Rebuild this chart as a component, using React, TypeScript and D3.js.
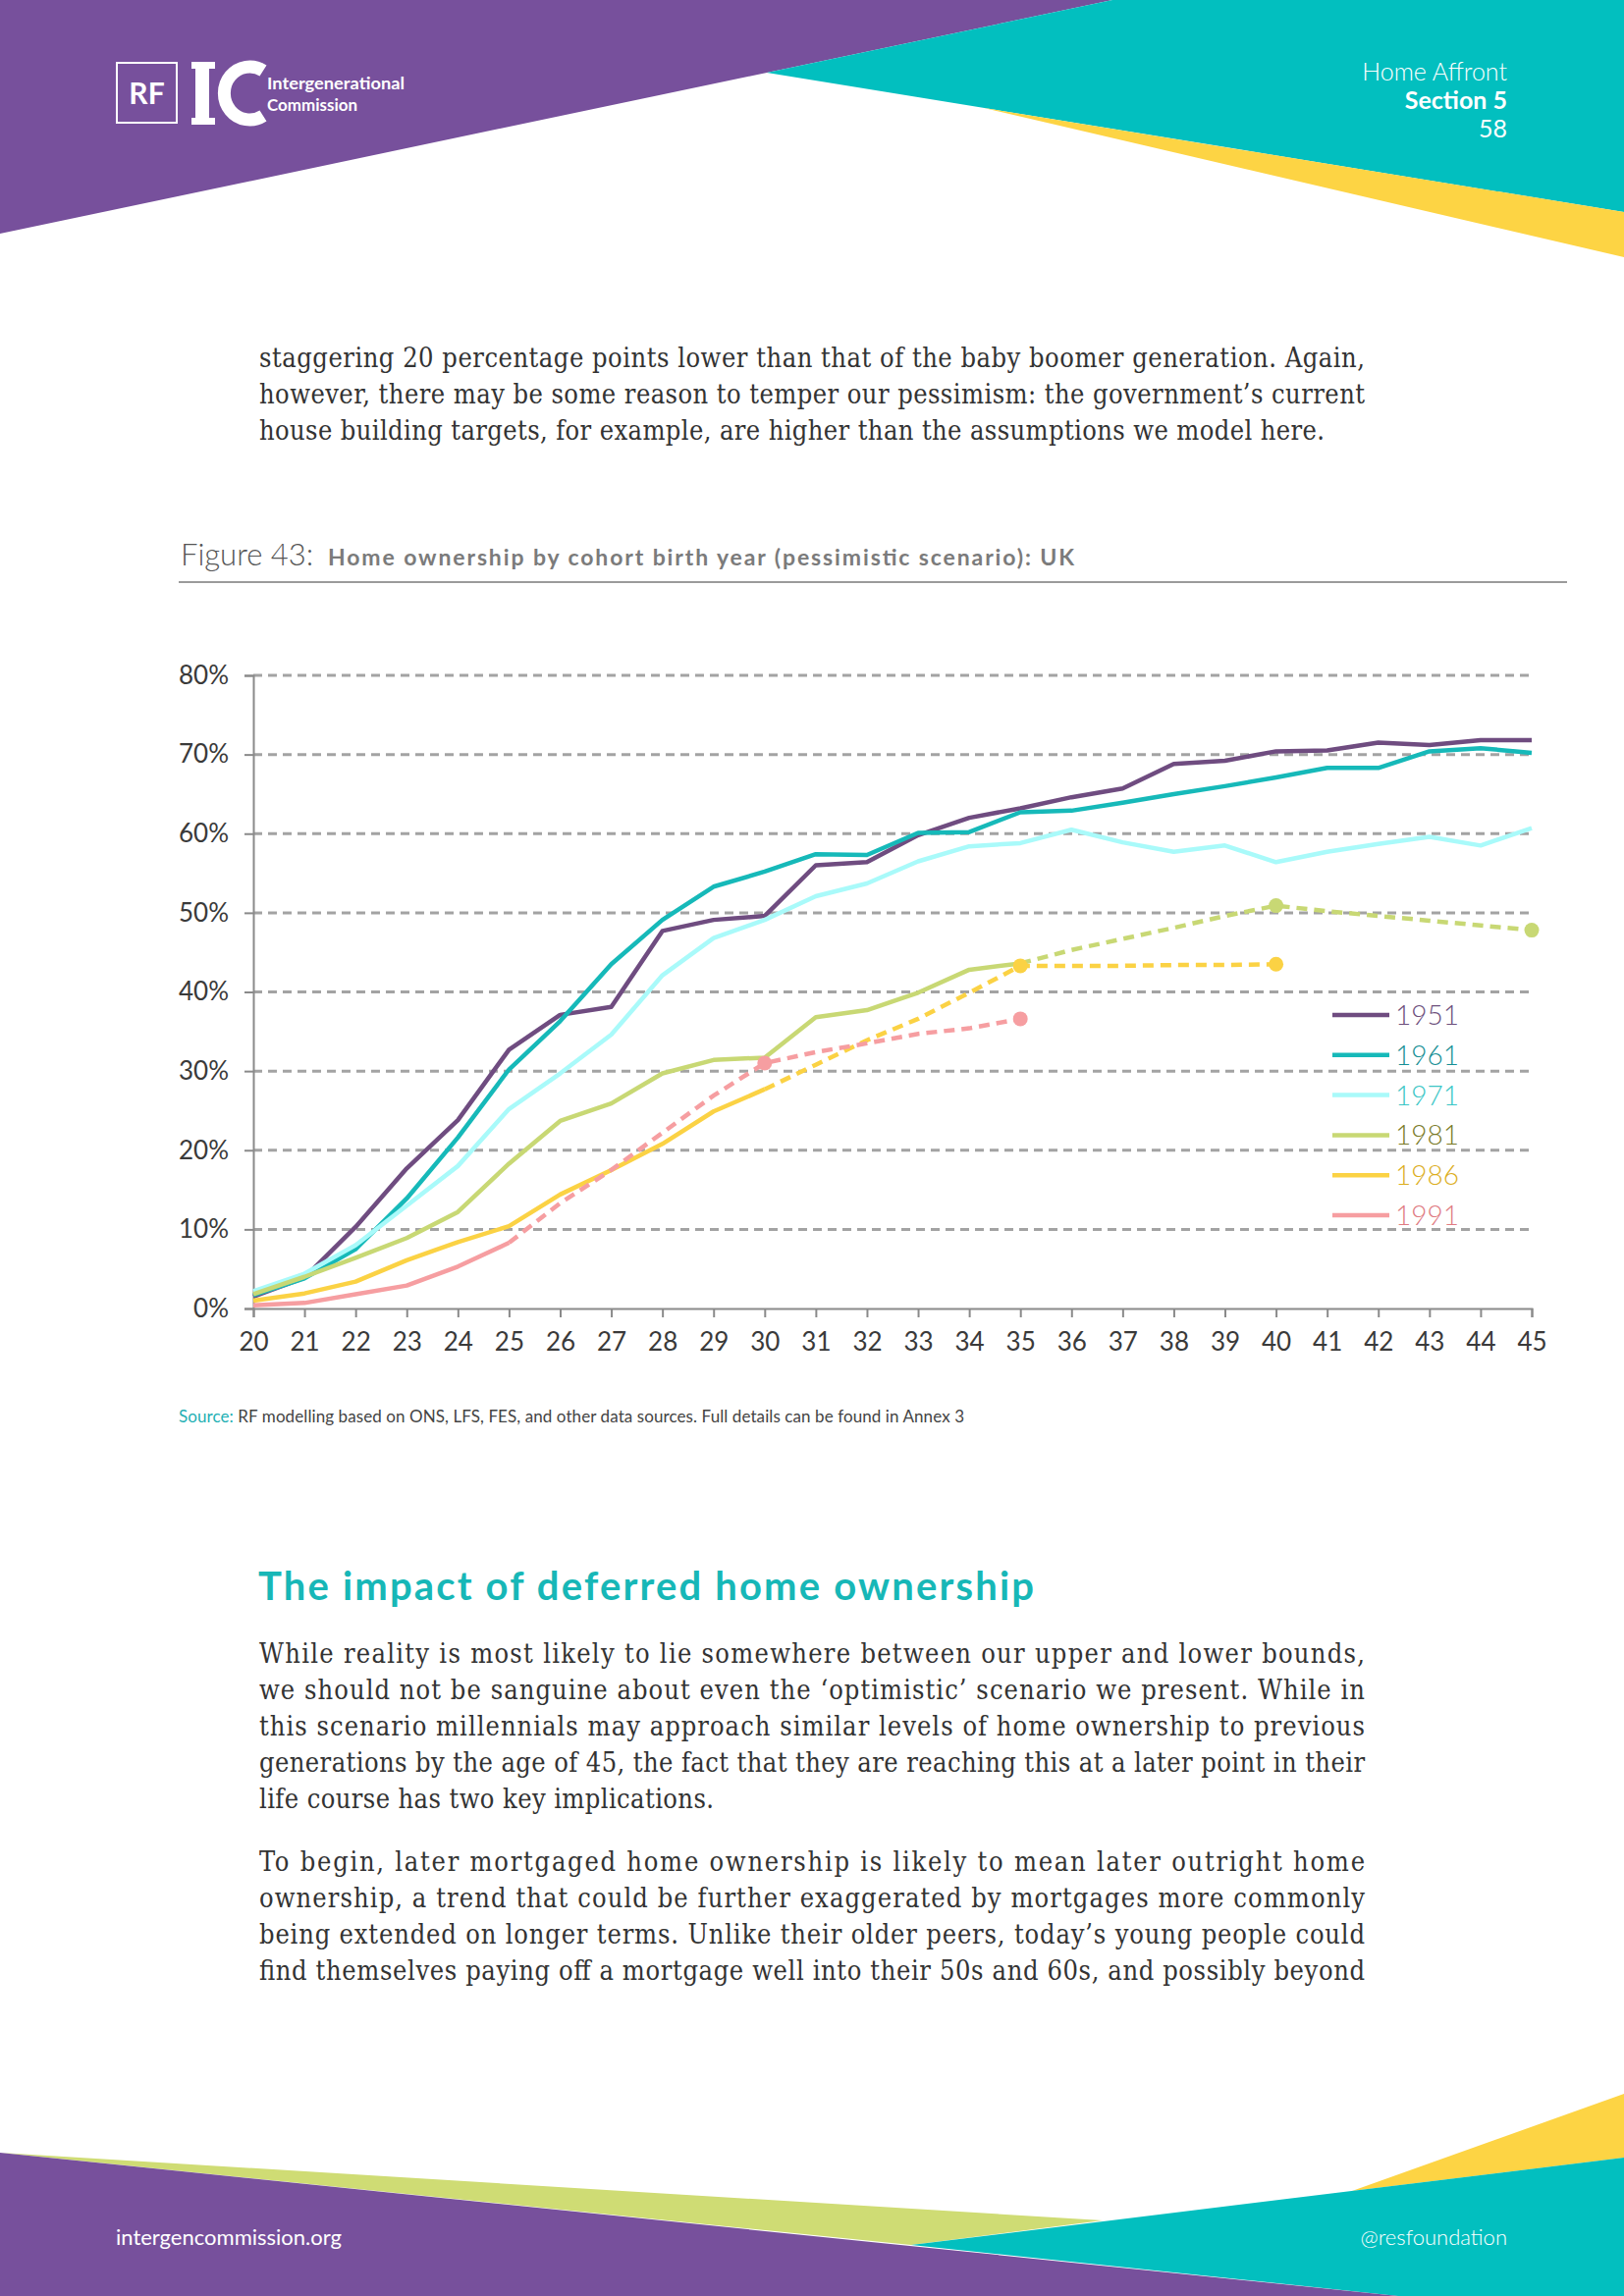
import React, { useEffect, useRef } from 'react';
import * as d3 from 'd3';

// ages on the x axis and y tick values
const ages = [20, 21, 22, 23, 24, 25, 26, 27, 28, 29, 30, 31, 32, 33, 34, 35, 36, 37, 38, 39, 40, 41, 42, 43, 44, 45];
const yTicks = [0, 10, 20, 30, 40, 50, 60, 70, 80];

const cohorts = ['1951', '1961', '1971', '1981', '1986', '1991'];

// home ownership rate (%) by age, starting at age 20
const own1951 = [1.5, 3.9, 10.3, 17.7, 23.8, 32.7, 37.1, 38.1, 47.7, 49.1, 49.6, 56.0, 56.4, 59.8, 62.0, 63.2, 64.6, 65.7, 68.8, 69.2, 70.4, 70.5, 71.5, 71.2, 71.8, 71.8];
const own1961 = [1.7, 3.8, 7.5, 13.9, 21.6, 30.2, 36.3, 43.5, 49.1, 53.3, 55.2, 57.4, 57.3, 60.1, 60.2, 62.7, 62.9, 63.9, 65.0, 66.0, 67.1, 68.3, 68.3, 70.4, 70.8, 70.2];
const own1971 = [2.2, 4.4, 8.0, 13.0, 18.0, 25.2, 29.7, 34.6, 42.1, 46.8, 49.1, 52.1, 53.7, 56.5, 58.4, 58.8, 60.5, 58.9, 57.7, 58.5, 56.4, 57.7, 58.7, 59.6, 58.5, 60.7];
const own1981 = [1.8, 4.0, 6.4, 8.9, 12.2, 18.3, 23.7, 25.9, 29.7, 31.4, 31.7, 36.8, 37.7, 39.9, 42.8, 43.6, 45.3, 46.7, 48.1, 49.6, 50.9, 50.2, 49.6, 49.0, 48.4, 47.8];
const own1986 = [1.0, 1.9, 3.4, 6.1, 8.4, 10.4, 14.4, 17.5, 20.8, 24.9, 27.7, 30.8, 33.9, 36.6, 39.9, 43.3, 43.3, 43.3, 43.4, 43.4, 43.5];
const own1991 = [0.4, 0.7, 1.8, 2.9, 5.3, 8.3, 13.3, 17.5, 22.2, 26.9, 31.0, 32.4, 33.5, 34.7, 35.4, 36.6];

// last observed age (solid line); projections after it are dashed
const observedUntil = [45, 45, 45, 35, 30, 25];
const markerAges = [[], [], [], [40, 45], [35, 40], [30, 35]];

const lineColors = ['#6f4c80', '#16b9b9', '#a9fafa', '#c8d874', '#fbd244', '#f69ea1'];
const labelColors = ['#6d4f7c', '#178f95', '#3cc6c6', '#7a7a28', '#dcae1e', '#e07b82'];

const para1 = [
  'staggering 20 percentage points lower than that of the baby boomer generation. Again,',
  'however, there may be some reason to temper our pessimism: the government\u2019s current',
  'house building targets, for example, are higher than the assumptions we model here.',
];
const para2 = [
  'While reality is most likely to lie somewhere between our upper and lower bounds,',
  'we should not be sanguine about even the \u2018optimistic\u2019 scenario we present. While in',
  'this scenario millennials may approach similar levels of home ownership to previous',
  'generations by the age of 45, the fact that they are reaching this at a later point in their',
  'life course has two key implications.',
];
const para3 = [
  'To begin, later mortgaged home ownership is likely to mean later outright home',
  'ownership, a trend that could be further exaggerated by mortgages more commonly',
  'being extended on longer terms. Unlike their older peers, today\u2019s young people could',
  'find themselves paying off a mortgage well into their 50s and 60s, and possibly beyond',
];

const W = 1654;
const H = 2339;
const SANS = 'Lato, "Noto Sans", sans-serif';
const SERIF = '"DejaVu Serif Condensed", "DejaVu Serif", "Liberation Serif", serif';

const Paragraph: React.FC<{ lines: string[]; top: number; lastWidth?: number }> = ({ lines, top, lastWidth }) => (
  <g fontFamily={SERIF} fontSize={27} fill="#333">
    {lines.map((line, i) => {
      const isLast = i === lines.length - 1;
      const len = isLast && lastWidth ? lastWidth : 1126;
      return (
        <text key={i} x={264} y={top + i * 37} textLength={len} lengthAdjust="spacing">
          {line}
        </text>
      );
    })}
  </g>
);

const Chart: React.FC = () => {
  const gRef = useRef<SVGGElement>(null);

  useEffect(() => {
    if (!gRef.current) return;
    const g = d3.select(gRef.current);
    g.selectAll('*').remove();

    const x = d3.scaleLinear().domain([20, 45]).range([258, 1560]);
    const y = d3.scaleLinear().domain([0, 80]).range([1333, 688]);

    // gridlines
    g.append('g')
      .selectAll('line')
      .data(yTicks.filter((t) => t > 0))
      .enter()
      .append('line')
      .attr('x1', x(20))
      .attr('x2', x(45))
      .attr('y1', (d) => y(d))
      .attr('y2', (d) => y(d))
      .attr('stroke', '#a3a3a3')
      .attr('stroke-width', 3)
      .attr('stroke-dasharray', '9,6');

    // axes
    const yAxis = d3
      .axisLeft(y)
      .tickValues(yTicks)
      .tickSize(9)
      .tickPadding(16)
      .tickFormat((d) => `${d}%`);
    const xAxis = d3.axisBottom(x).tickValues(ages).tickSize(9).tickPadding(16).tickFormat((d) => `${d}`);

    const ya = g.append('g').attr('transform', `translate(${x(20)},0)`).call(yAxis);
    const xa = g.append('g').attr('transform', `translate(0,${y(0)})`).call(xAxis);

    [ya, xa].forEach((a) => {
      a.select('.domain').attr('stroke', '#8a8a8a').attr('stroke-width', 2);
      a.selectAll('.tick line').attr('stroke', '#8a8a8a').attr('stroke-width', 2);
      a.selectAll('.tick text')
        .attr('fill', '#3a3a3a')
        .attr('font-size', 26)
        .attr('font-weight', 400)
        .attr('font-family', SANS);
    });

    const allSeries = [own1951, own1961, own1971, own1981, own1986, own1991];
    const line = d3
      .line<[number, number]>()
      .x((d) => x(d[0]))
      .y((d) => y(d[1]));

    allSeries.forEach((vals, i) => {
      const pts: [number, number][] = vals.map((v, j) => [ages[j], v]);
      const solid = pts.filter((p) => p[0] <= observedUntil[i]);
      const dashed = pts.filter((p) => p[0] >= observedUntil[i]);
      if (dashed.length > 1) {
        g.append('path')
          .attr('d', line(dashed))
          .attr('fill', 'none')
          .attr('stroke', lineColors[i])
          .attr('stroke-width', 4.5)
          .attr('stroke-dasharray', '11,7');
      }
      g.append('path')
        .attr('d', line(solid))
        .attr('fill', 'none')
        .attr('stroke', lineColors[i])
        .attr('stroke-width', 4.5)
        .attr('stroke-linejoin', 'round');
      g.selectAll(`.dot-${i}`)
        .data(pts.filter((p) => markerAges[i].includes(p[0])))
        .enter()
        .append('circle')
        .attr('class', `dot-${i}`)
        .attr('cx', (d) => x(d[0]))
        .attr('cy', (d) => y(d[1]))
        .attr('r', 7.5)
        .attr('fill', lineColors[i]);
    });

    // legend
    const legend = g.append('g').attr('transform', 'translate(1357,1034)');
    cohorts.forEach((c, i) => {
      const row = legend.append('g').attr('transform', `translate(0,${i * 40.8})`);
      row.append('line')
        .attr('x1', 0)
        .attr('x2', 58)
        .attr('stroke', lineColors[i])
        .attr('stroke-width', 4.5);
      row.append('text')
        .attr('x', 64)
        .attr('dy', '0.36em')
        .attr('font-family', SANS)
        .attr('font-weight', 300)
        .attr('font-size', 28)
        .attr('fill', labelColors[i])
        .text(c);
    });
  }, []);

  return <g ref={gRef} />;
};

export default function App() {
  return (
    <svg
      width={W}
      height={H}
      viewBox={`0 0 ${W} ${H}`}
      style={{ position: 'absolute', left: 0, top: 0, background: '#fff' }}
    >
      <rect width={W} height={H} fill="#fff" />
      {/* header shapes */}
      <polygon points="0,0 1133,0 0,238" fill="#77509c" />
      <polygon points="781,74 1133,0 1654,0 1654,216" fill="#02bfbf" />
      <polygon points="1002,110 1654,216 1654,262" fill="#fdd444" />

      {/* logo */}
      <rect x={119} y={64} width={61} height={61} fill="none" stroke="#fff" strokeWidth={2} />
      <text x={149.5} y={106} textAnchor="middle" fontFamily={SANS} fontWeight={700} fontSize={30} fill="#fff">
        RF
      </text>
      <rect x={199} y={63} width={14} height={64} fill="#fff" />
      <rect x={195} y={63} width={24} height={7} fill="#fff" />
      <rect x={195} y={120} width={24} height={7} fill="#fff" />
      <path d="M268,72 A26,27 0 1 0 268,118" fill="none" stroke="#fff" strokeWidth={13} />
      <text x={272} y={91} fontFamily={SANS} fontWeight={700} fontSize={17} fill="#fff" textLength={140} lengthAdjust="spacingAndGlyphs">
        Intergenerational
      </text>
      <text x={272} y={113} fontFamily={SANS} fontWeight={700} fontSize={17} fill="#fff" textLength={92} lengthAdjust="spacingAndGlyphs">
        Commission
      </text>

      <g fontFamily={SANS} fill="#fff" textAnchor="end" fontSize={25}>
        <text x={1535} y={82} fontWeight={300}>Home Affront</text>
        <text x={1535} y={111} fontWeight={700}>Section 5</text>
        <text x={1535} y={140} fontWeight={400}>58</text>
      </g>

      <Paragraph lines={para1} top={374} lastWidth={1085} />

      {/* figure title */}
      <text x={184} y={576} fontFamily={SANS} fontWeight={300} fontSize={31} fill="#555">
        Figure 43:
      </text>
      <text x={334} y={576} fontFamily={SANS} fontWeight={700} fontSize={23} fill="#7b7b7b" textLength={760} lengthAdjust="spacing">
        Home ownership by cohort birth year (pessimistic scenario): UK
      </text>
      <line x1={182} x2={1596} y1={593} y2={593} stroke="#7a7a7a" strokeWidth={1.5} />

      <Chart />

      <text x={182} y={1449} fontFamily={SANS} fontSize={17} fill="#444" textLength={800} lengthAdjust="spacing">
        <tspan fill="#1fb0b4">Source:</tspan> RF modelling based on ONS, LFS, FES, and other data sources. Full details can be found in Annex 3
      </text>

      <text x={263} y={1630} fontFamily={SANS} fontWeight={700} fontSize={40} fill="#17b7b7" textLength={790} lengthAdjust="spacing">
        The impact of deferred home ownership
      </text>

      <Paragraph lines={para2} top={1694} lastWidth={463} />
      <Paragraph lines={para3} top={1906} />

      {/* footer shapes */}
      <polygon points="0,2193 1123,2262 928,2287" fill="#cfdc74" />
      <polygon points="1377,2232 1654,2133 1654,2198" fill="#fdd444" />
      <polygon points="928,2287 1654,2198 1654,2339 1424,2339" fill="#02bfbf" />
      <polygon points="0,2193 1424,2339 0,2339" fill="#77509c" />
      <text x={118} y={2287} fontFamily={SANS} fontSize={22} fill="#fff">
        intergencommission.org
      </text>
      <text x={1535} y={2287} textAnchor="end" fontFamily={SANS} fontWeight={300} fontSize={22} fill="#fff">
        @resfoundation
      </text>
    </svg>
  );
}
